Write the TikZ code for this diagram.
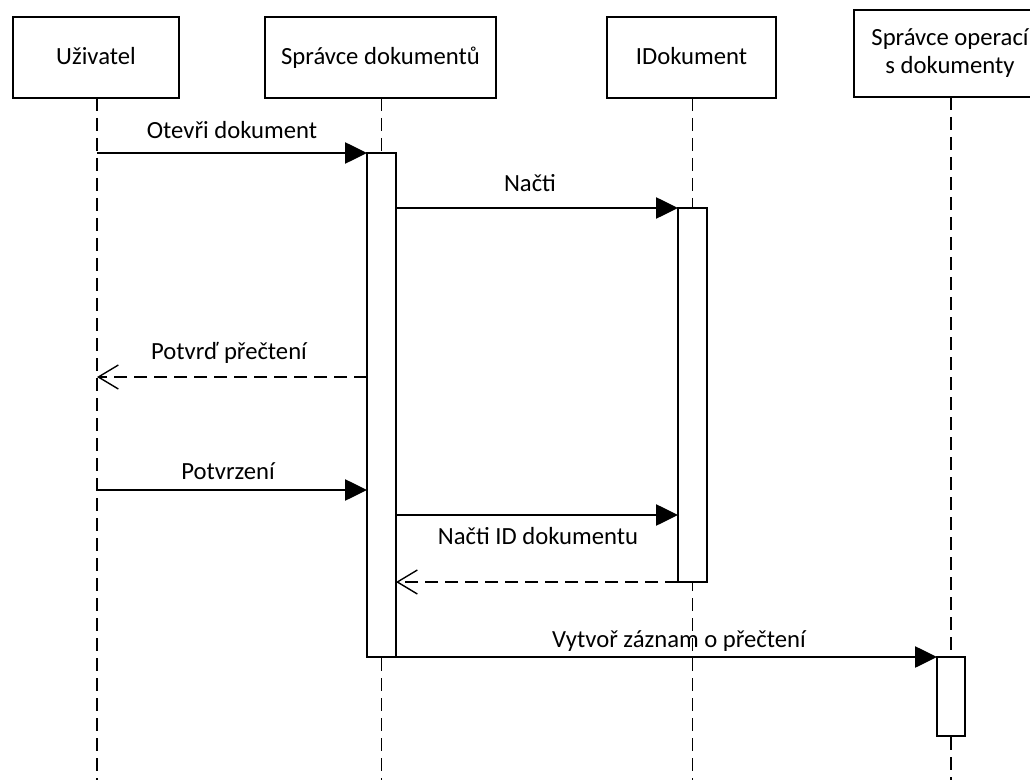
\documentclass[tikz,border=0pt]{standalone}
\usepackage{fontspec}
\setmainfont{Carlito}
\usetikzlibrary{arrows.meta}
\begin{document}
\begin{tikzpicture}[x=0.75pt,y=-0.75pt,line width=1.05pt,
  txt/.style={font=\fontsize{18.5}{21}\selectfont},
  obj/.style={draw,rectangle,inner sep=0pt,outer sep=0pt,minimum height=60.75pt,txt,align=center,text height=11.2pt,text depth=0pt},
  act/.style={draw,rectangle,fill=white,inner sep=0pt,outer sep=0pt},
  life/.style={dash pattern=on 10pt off 5pt},
  msg/.style={-{Triangle[length=16.5pt,width=16pt]}},
  ret/.style={dash pattern=on 10pt off 5pt,-{Straight Barb[length=15pt,width=18pt,line width=1.05pt]}},
  lbl/.style={txt,inner sep=0pt,anchor=base}]
\useasboundingbox (0,0) rectangle (1030,780);
\clip (0,0) rectangle (1030,780);
% objects
\node[obj,minimum width=124.5pt] (u) at (96,57.5) {Uživatel};
\node[obj,minimum width=173.25pt] (s) at (380.5,57.5) {Správce dokumentů};
\node[obj,minimum width=126.75pt] (i) at (691.5,57.5) {IDokument};
\node[obj,minimum width=144pt,minimum height=65.25pt,text height=32.2pt,text depth=2pt] (o) at (950,53.5) {Správce operací\\s dokumenty};
\coordinate (bot) at (0,780);
% activation bars (positions)
\path (381.5,405) coordinate (a1c) (692.5,395) coordinate (a2c) (951,696.5) coordinate (a3c);
% lifelines
\draw[life] (u.south -| 97,0) -- (97,780);
\draw[life] (s.south -| a1c) -- (a1c |- bot);
\draw[life] (i.south -| a2c) -- (a2c |- bot);
\draw[life] (o.south -| a3c) -- (a3c |- bot);
% bars on top of lifelines
\node[act,minimum width=21.75pt,minimum height=378pt] (a1) at (a1c) {};
\node[act,minimum width=21.75pt,minimum height=280.5pt] (a2) at (a2c) {};
\node[act,minimum width=21pt,minimum height=59.25pt] (a3) at (a3c) {};
% message levels
\coordinate (ul) at (97,0);
\coordinate (y3) at (0,377);
\coordinate (y4) at (0,490);
\coordinate (y5) at (0,515);
\coordinate (y6) at (0,582);
% messages
\draw[msg] (ul |- a1.north west) -- (a1.north west);
\draw[msg] (a1.east |- a2.north west) -- (a2.north west);
\draw[ret] (a1.west |- y3) -- (ul |- y3);
\draw[msg] (ul |- y4) -- (a1.west |- y4);
\draw[msg] (a1.east |- y5) -- (a2.west |- y5);
\draw[ret] (a2.west |- y6) -- (a1.east |- y6);
\draw[msg] (a1.south east) -- (a3.north west);
% labels
\node[lbl] (l1) at (232,139) {Otevři dokument};
\node[lbl] (l2) at (530,192) {Načti};
\node[lbl] (l3) at (229,359) {Potvrď přečtení};
\node[lbl] (l4) at (228,479) {Potvrzení};
\node[lbl] (l5) at (538,544) {Načti ID dokumentu};
\node[lbl] (l6) at (679,647) {Vytvoř záznam o přečtení};
\end{tikzpicture}
\end{document}
